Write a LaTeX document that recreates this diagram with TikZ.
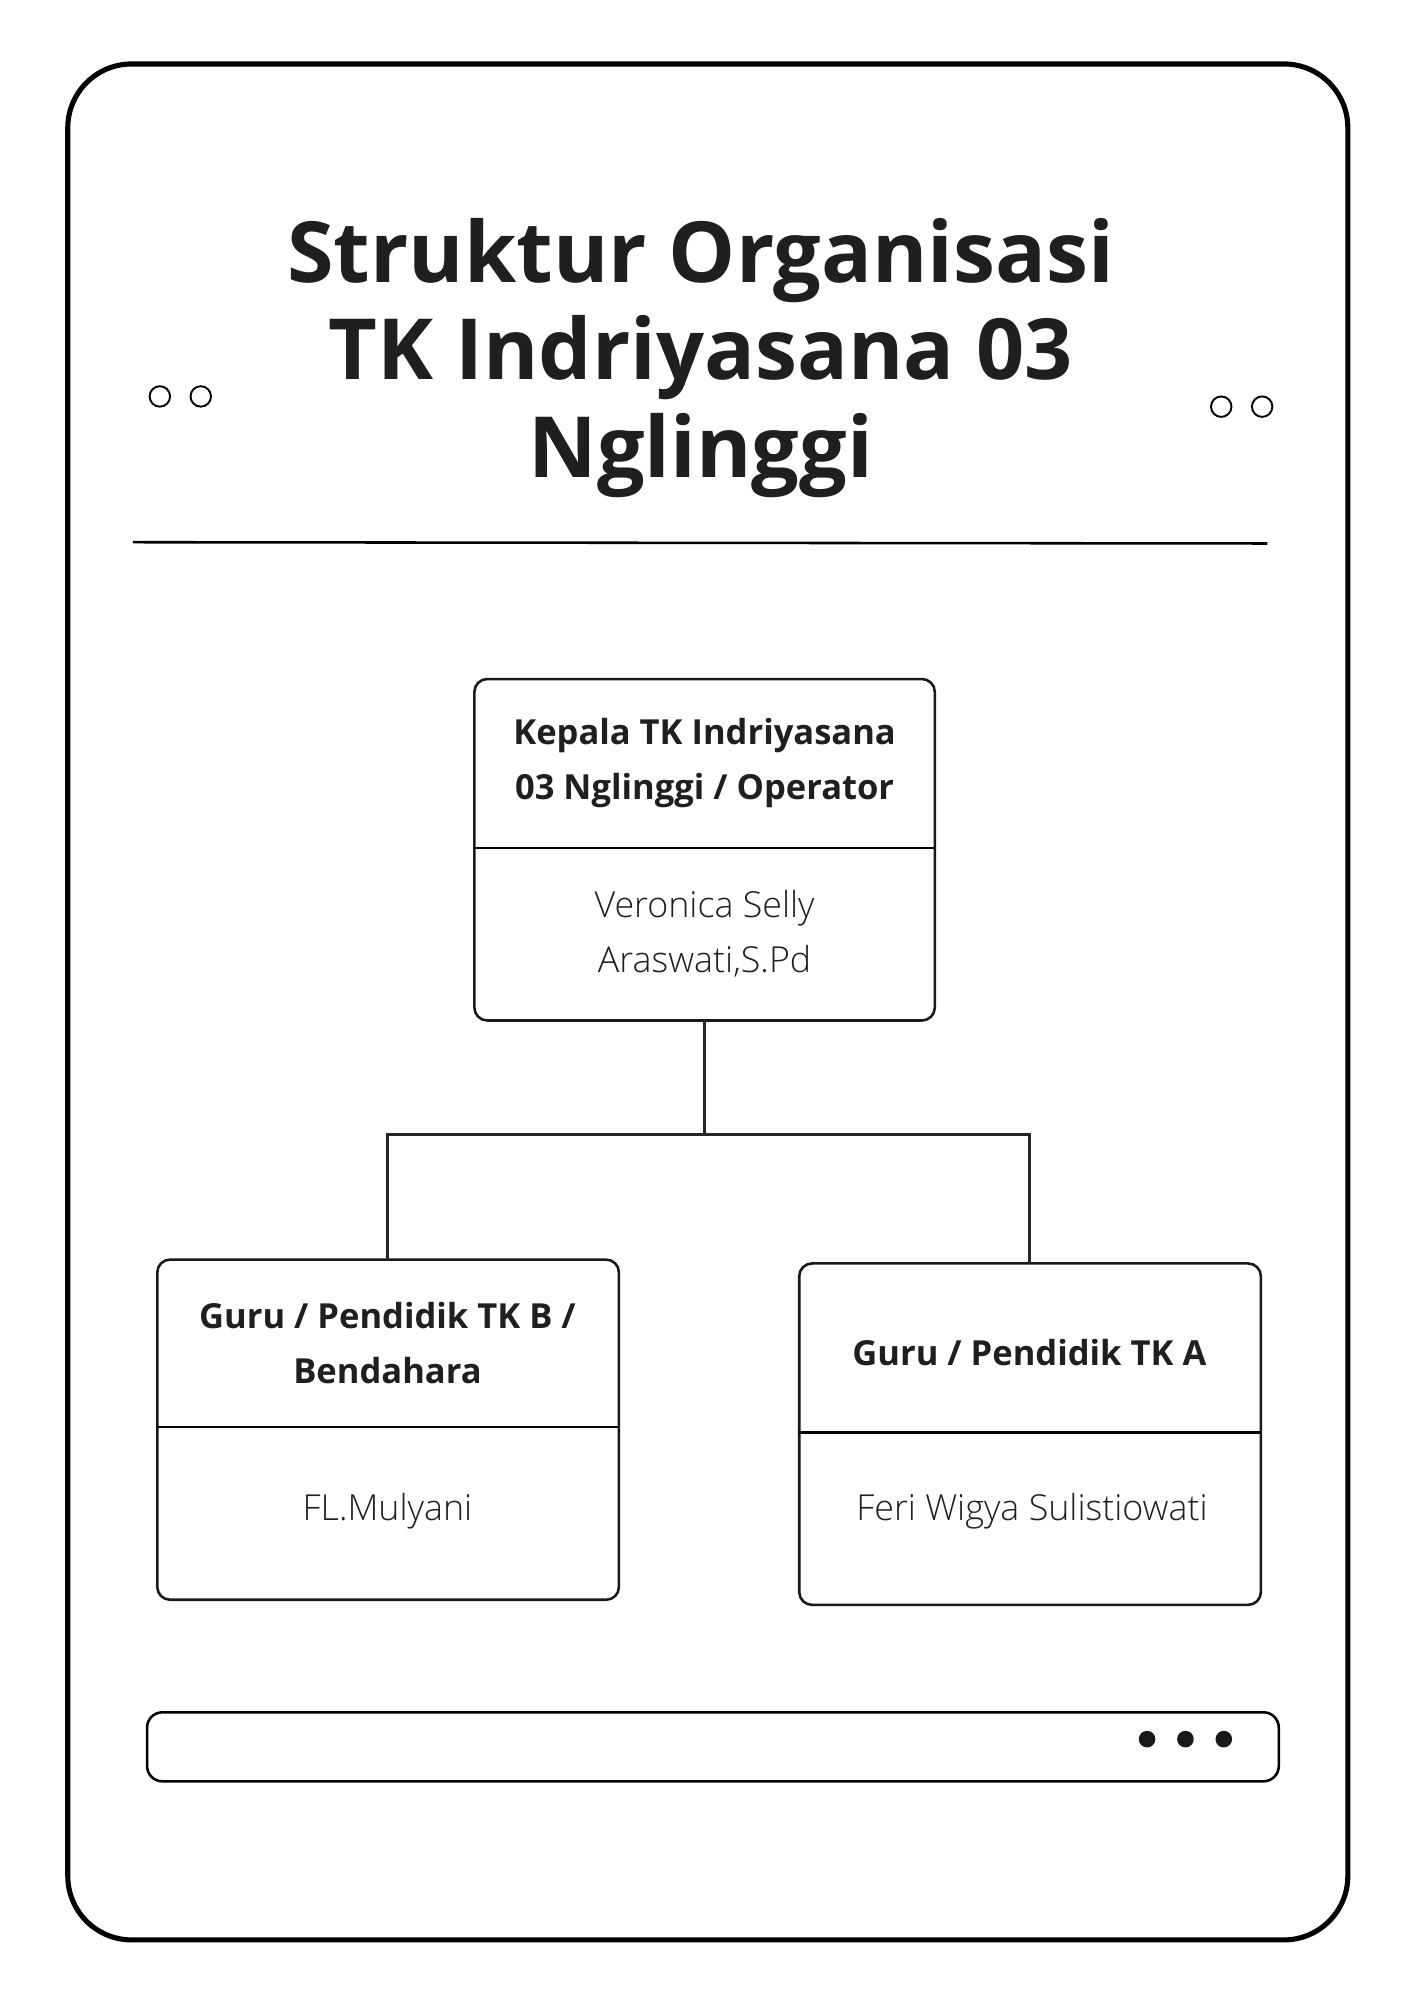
\documentclass[tikz,border=0pt]{standalone}
\usepackage{fontspec}
\setmainfont{Open Sans}
\newfontfamily\lightf{Open Sans Light}
\begin{document}
\begin{tikzpicture}[x=1pt,y=-1pt,
  box/.style={draw=black!90,line width=2pt,rounded corners=10pt},
  head/.style={font=\fontsize{27}{43}\selectfont\bfseries,color=black!88,align=center},
  nm/.style={font=\lightf\fontsize{28}{43}\selectfont,color=black!88,align=center},
  ring/.style={draw,line width=1.5pt,circle,minimum size=16pt,inner sep=0pt},
  dot/.style={fill=black!90,circle,minimum size=13pt,inner sep=0pt},
  conn/.style={draw=black!85,line width=2pt}]
\useasboundingbox (0,0) rectangle (1106,1564);
\fill[white] (0,0) rectangle (1106,1564);
\draw[line width=4pt,rounded corners=50pt] (53,50) rectangle (1054,1517);
\node[ring] (c1) at (125,310) {};
\node[ring] (c2) at (157,310) {};
\node[ring] (c3) at (955,318) {};
\node[ring] (c4) at (987,318) {};
\node[font=\fontsize{66}{76}\selectfont\bfseries,color=black!88,align=center] (title) at (548,280) {Struktur Organisasi\\TK Indriyasana 03\\Nglinggi};
\draw[line width=2pt] (104,424) -- (991,425);
% top box
\draw[box] (371,531) rectangle (731,798);
\draw[line width=2pt] (371,663) -- (731,663);
\node[head] (h1) at (551,597) {Kepala TK Indriyasana\\03 Nglinggi / Operator};
\node[nm] (n1) at (551,730) {Veronica Selly\\Araswati,S.Pd};
\coordinate (t1) at (551,798);
% left box
\draw[box] (123,985) rectangle (484,1251);
\draw[line width=2pt] (123,1116) -- (484,1116);
\node[head] (h2) at (303,1050) {Guru / Pendidik TK B /\\Bendahara};
\node[nm] (n2) at (303,1182) {FL.Mulyani};
\coordinate (t2) at (303,985);
% right box
\draw[box] (625,988) rectangle (986,1255);
\draw[line width=2pt] (625,1120) -- (986,1120);
\node[head] (h3) at (805,1058) {Guru / Pendidik TK A};
\node[nm] (n3) at (807,1182) {Feri Wigya Sulistiowati};
\coordinate (t3) at (805,988);
\coordinate (j) at (551,887);
\draw[conn] (t1) -- (j) -| (t2);
\draw[conn] (j) -| (t3);
% bottom bar
\draw[line width=2pt,rounded corners=12pt] (115,1339) rectangle (1000,1393);
\node[dot] (d1) at (897,1360) {};
\node[dot] (d2) at (927,1360) {};
\node[dot] (d3) at (957,1360) {};
\end{tikzpicture}
\end{document}
